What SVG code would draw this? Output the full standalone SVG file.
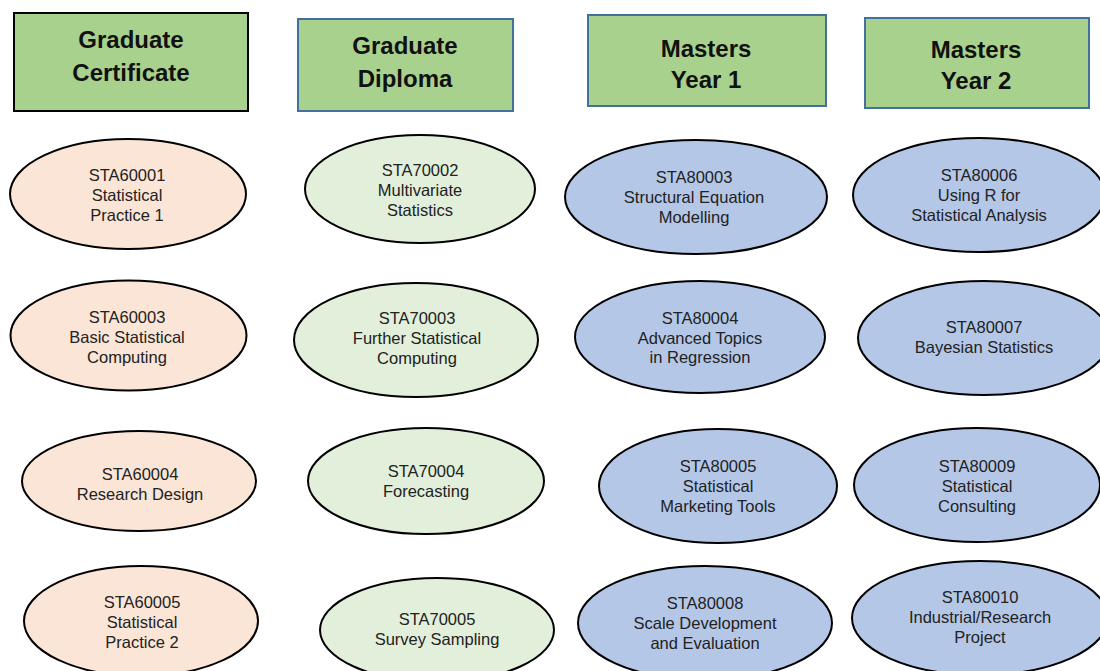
<svg xmlns="http://www.w3.org/2000/svg" width="1100" height="671" viewBox="0 0 1100 671">
<style>
.hdr{fill:#a9d18e;stroke:#41719c;stroke-width:2}
.hdr.k{stroke:#000}
.ht{font-family:"Liberation Sans",Arial,sans-serif;font-weight:bold;font-size:24px;fill:#111;text-anchor:middle}
.e{stroke:#000;stroke-width:2}
.p{fill:#fbe5d6}.g{fill:#e2efda}.b{fill:#b4c7e7}
.t{font-family:"Liberation Sans",Arial,sans-serif;font-size:16.5px;fill:#222;text-anchor:middle}
</style>
<rect width="1100" height="671" fill="#fff"/>
<g id="connectors"></g>
<g id="h-gc"><rect class="hdr k" x="14" y="13" width="234" height="98"/><text class="ht" x="131"><tspan x="131" y="48">Graduate</tspan><tspan x="131" y="81">Certificate</tspan></text></g>
<g id="h-gd"><rect class="hdr" x="298" y="19" width="215" height="92"/><text class="ht"><tspan x="405" y="54">Graduate</tspan><tspan x="405" y="87">Diploma</tspan></text></g>
<g id="h-m1"><rect class="hdr" x="588" y="15" width="238" height="91"/><text class="ht"><tspan x="706" y="57">Masters</tspan><tspan x="706" y="88">Year 1</tspan></text></g>
<g id="h-m2"><rect class="hdr" x="865" y="18" width="224" height="90"/><text class="ht"><tspan x="976" y="58">Masters</tspan><tspan x="976" y="89">Year 2</tspan></text></g>

<g id="sta60001"><ellipse class="e p" cx="128" cy="194" rx="118" ry="55"/><text class="t"><tspan x="127" y="181">STA60001</tspan><tspan x="127" y="201">Statistical</tspan><tspan x="127" y="221">Practice 1</tspan></text></g>
<g id="sta60003"><ellipse class="e p" cx="128.5" cy="335.5" rx="118" ry="55"/><text class="t"><tspan x="127" y="323">STA60003</tspan><tspan x="127" y="343">Basic Statistical</tspan><tspan x="127" y="363">Computing</tspan></text></g>
<g id="sta60004"><ellipse class="e p" cx="139" cy="481" rx="117" ry="50"/><text class="t"><tspan x="140" y="480">STA60004</tspan><tspan x="140" y="500">Research Design</tspan></text></g>
<g id="sta60005"><ellipse class="e p" cx="141" cy="621" rx="117" ry="55"/><text class="t"><tspan x="142" y="608">STA60005</tspan><tspan x="142" y="628">Statistical</tspan><tspan x="142" y="648">Practice 2</tspan></text></g>

<g id="sta70002"><ellipse class="e g" cx="420" cy="189" rx="115" ry="54"/><text class="t"><tspan x="420" y="176">STA70002</tspan><tspan x="420" y="196">Multivariate</tspan><tspan x="420" y="216">Statistics</tspan></text></g>
<g id="sta70003"><ellipse class="e g" cx="416" cy="340" rx="122" ry="57"/><text class="t"><tspan x="417" y="324">STA70003</tspan><tspan x="417" y="344">Further Statistical</tspan><tspan x="417" y="364">Computing</tspan></text></g>
<g id="sta70004"><ellipse class="e g" cx="426" cy="481" rx="118" ry="53"/><text class="t"><tspan x="426" y="477">STA70004</tspan><tspan x="426" y="497">Forecasting</tspan></text></g>
<g id="sta70005"><ellipse class="e g" cx="437" cy="630" rx="117" ry="52"/><text class="t"><tspan x="437" y="625">STA70005</tspan><tspan x="437" y="645">Survey Sampling</tspan></text></g>

<g id="sta80003"><ellipse class="e b" cx="696" cy="197" rx="131" ry="57"/><text class="t"><tspan x="694" y="183">STA80003</tspan><tspan x="694" y="203">Structural Equation</tspan><tspan x="694" y="223">Modelling</tspan></text></g>
<g id="sta80004"><ellipse class="e b" cx="700" cy="337" rx="125" ry="56"/><text class="t"><tspan x="700" y="324">STA80004</tspan><tspan x="700" y="344">Advanced Topics</tspan><tspan x="700" y="363">in Regression</tspan></text></g>
<g id="sta80005"><ellipse class="e b" cx="718" cy="486" rx="119" ry="57"/><text class="t"><tspan x="718" y="472">STA80005</tspan><tspan x="718" y="492">Statistical</tspan><tspan x="718" y="512">Marketing Tools</tspan></text></g>
<g id="sta80008"><ellipse class="e b" cx="705" cy="623" rx="127" ry="57"/><text class="t"><tspan x="705" y="609">STA80008</tspan><tspan x="705" y="629">Scale Development</tspan><tspan x="705" y="649">and Evaluation</tspan></text></g>

<g id="sta80006"><ellipse class="e b" cx="979" cy="195" rx="126" ry="57"/><text class="t"><tspan x="979" y="181">STA80006</tspan><tspan x="979" y="201">Using R for</tspan><tspan x="979" y="221">Statistical Analysis</tspan></text></g>
<g id="sta80007"><ellipse class="e b" cx="984" cy="338" rx="126" ry="57"/><text class="t"><tspan x="984" y="333">STA80007</tspan><tspan x="984" y="353">Bayesian Statistics</tspan></text></g>
<g id="sta80009"><ellipse class="e b" cx="977" cy="485" rx="123" ry="57"/><text class="t"><tspan x="977" y="472">STA80009</tspan><tspan x="977" y="492">Statistical</tspan><tspan x="977" y="512">Consulting</tspan></text></g>
<g id="sta80010"><ellipse class="e b" cx="980" cy="618" rx="128" ry="57"/><text class="t"><tspan x="980" y="603">STA80010</tspan><tspan x="980" y="623">Industrial/Research</tspan><tspan x="980" y="643">Project</tspan></text></g>
</svg>
